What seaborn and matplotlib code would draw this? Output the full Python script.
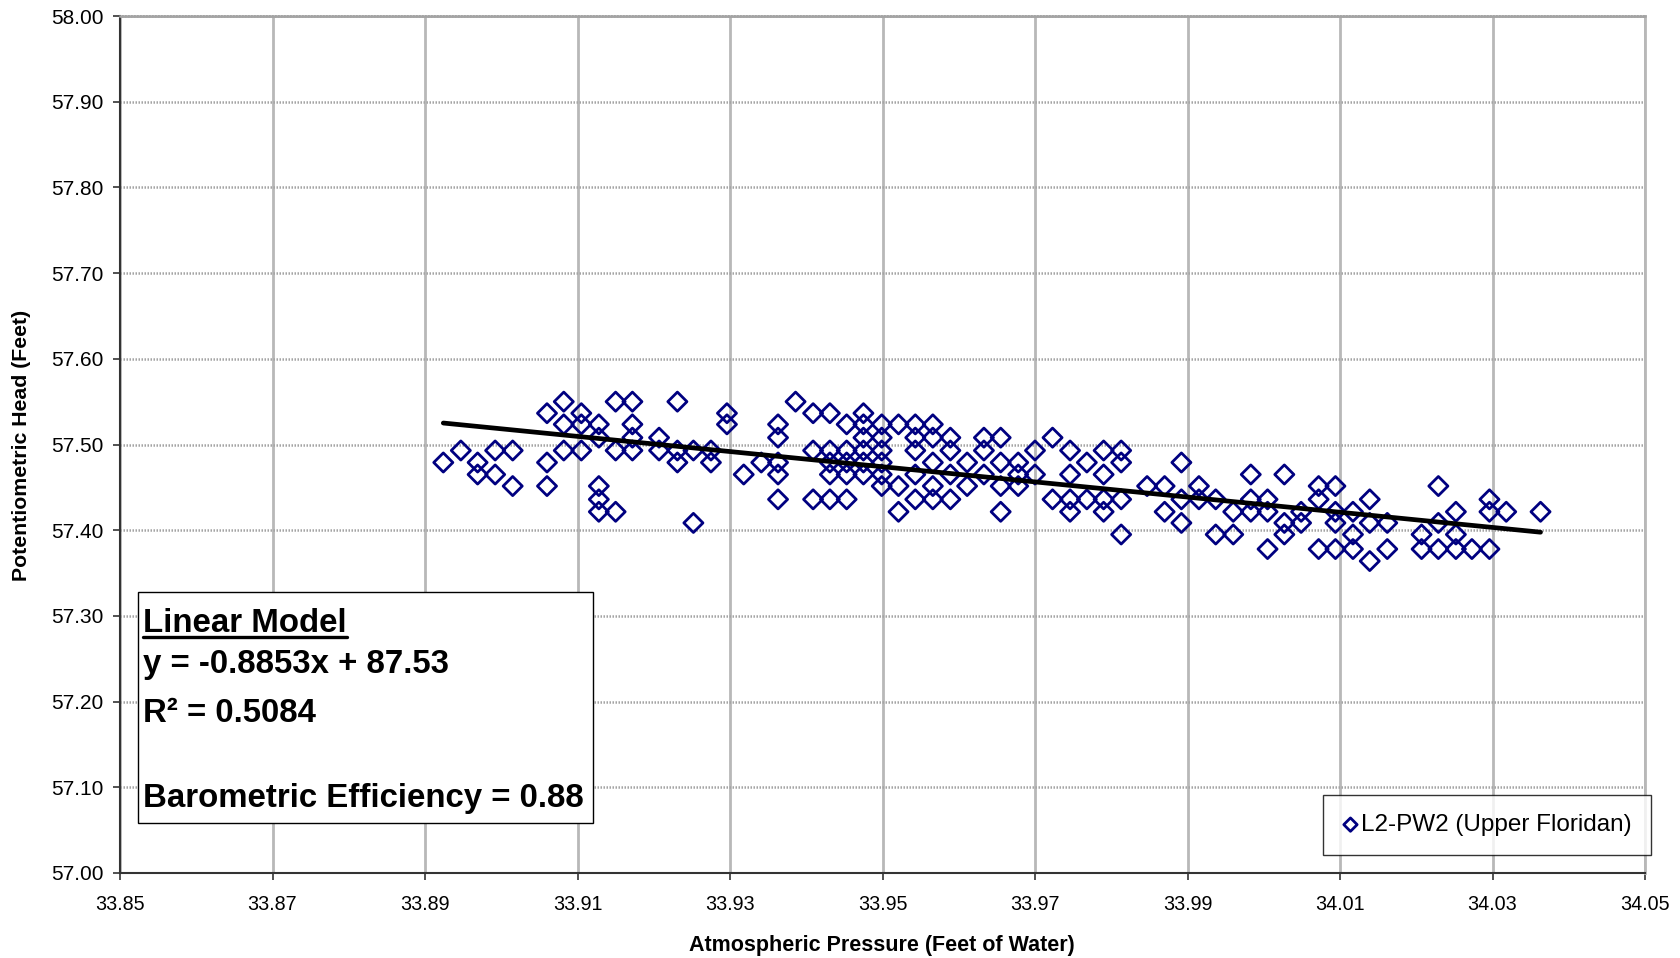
import numpy as np
import pandas as pd
import matplotlib
matplotlib.use("Agg")
import matplotlib.pyplot as plt
import seaborn as sns
from matplotlib.lines import Line2D
from matplotlib.patches import Rectangle

sns.set_style("white")
plt.rcParams['font.family'] = ['Liberation Sans', 'DejaVu Sans']
plt.rcParams['text.color'] = 'black'
plt.rcParams['xtick.labelcolor'] = 'black'
plt.rcParams['ytick.labelcolor'] = 'black'

# atmospheric pressure (ft of water), one value per column of points
pressure_cols = [33.8924, 33.8947, 33.8969, 33.8992, 33.9015, 33.9060, 33.9082, 33.9105,
                 33.9128, 33.9150, 33.9172, 33.9207, 33.9231, 33.9252, 33.9275, 33.9296,
                 33.9318, 33.9341, 33.9363, 33.9386, 33.9409, 33.9431, 33.9453, 33.9475,
                 33.9499, 33.9521, 33.9543, 33.9566, 33.9589, 33.9611, 33.9633, 33.9655,
                 33.9678, 33.9700, 33.9723, 33.9746, 33.9768, 33.9790, 33.9813, 33.9847,
                 33.9870, 33.9892, 33.9915, 33.9937, 33.9960, 33.9983, 34.0005, 34.0027,
                 34.0049, 34.0072, 34.0094, 34.0117, 34.0139, 34.0162, 34.0207, 34.0229,
                 34.0252, 34.0273, 34.0296, 34.0318, 34.0363]
# potentiometric head (ft) read at each pressure column
head_cols = [
    [57.479], [57.493], [57.479, 57.465], [57.493, 57.465], [57.493, 57.4515],
    [57.5365, 57.479, 57.4515], [57.550, 57.5235, 57.493], [57.5365, 57.5235, 57.493],
    [57.5235, 57.508, 57.4515, 57.436, 57.4215], [57.550, 57.493, 57.4215],
    [57.550, 57.5235, 57.508, 57.493], [57.508, 57.493], [57.550, 57.493, 57.479],
    [57.493, 57.4085], [57.493, 57.479], [57.5365, 57.5235],
    [57.465], [57.479], [57.5235, 57.508, 57.479, 57.465, 57.436], [57.550],
    [57.5365, 57.493, 57.436], [57.5365, 57.493, 57.479, 57.465, 57.436],
    [57.5235, 57.493, 57.479, 57.465, 57.436],
    [57.5365, 57.5235, 57.508, 57.493, 57.479, 57.465],
    [57.5235, 57.508, 57.493, 57.479, 57.465, 57.4515], [57.5235, 57.4515, 57.4215],
    [57.5235, 57.508, 57.493, 57.465, 57.436], [57.5235, 57.508, 57.479, 57.4515, 57.436],
    [57.508, 57.493, 57.465, 57.436], [57.479, 57.4515], [57.508, 57.493, 57.465],
    [57.508, 57.479, 57.4515, 57.4215], [57.479, 57.465, 57.4515], [57.493, 57.465],
    [57.508, 57.436], [57.493, 57.465, 57.436, 57.4215], [57.479, 57.436],
    [57.493, 57.465, 57.436, 57.4215], [57.493, 57.479, 57.436, 57.395], [57.4515],
    [57.4515, 57.4215], [57.479, 57.436, 57.4085], [57.4515, 57.436], [57.436, 57.395],
    [57.4215, 57.395], [57.465, 57.436, 57.4215], [57.436, 57.4215, 57.378],
    [57.465, 57.4085, 57.395], [57.4215, 57.4085], [57.4515, 57.436, 57.378],
    [57.4515, 57.4215, 57.4085, 57.378], [57.4215, 57.395, 57.378],
    [57.436, 57.4085, 57.364], [57.4085, 57.378], [57.395, 57.378],
    [57.4515, 57.4085, 57.378], [57.4215, 57.395, 57.378], [57.378],
    [57.436, 57.4215, 57.378], [57.4215], [57.4215]]

slope = -0.8853
intercept = 87.53
r_squared = 0.5084
baro_eff = 0.88
series_name = 'L2-PW2 (Upper Floridan)'

x_ticks = [33.85, 33.87, 33.89, 33.91, 33.93, 33.95, 33.97, 33.99, 34.01, 34.03, 34.05]
y_ticks = [57.00, 57.10, 57.20, 57.30, 57.40, 57.50, 57.60, 57.70, 57.80, 57.90, 58.00]

pressure = [p for p, hs in zip(pressure_cols, head_cols) for h in hs]
head = [h for hs in head_cols for h in hs]
df = pd.DataFrame({'pressure': pressure, 'head': head})

fig = plt.figure(figsize=(16.8, 9.58), dpi=100)
W, H = 1680, 958
ax = fig.add_axes([120 / W, 1 - 873 / H, 1525 / W, 857 / H])

sns.scatterplot(data=df, x='pressure', y='head', marker='D', s=95,
                color='#000080', facecolor='none', edgecolor='#000080',
                linewidth=2.0, label=series_name, ax=ax, zorder=3)

# fitted trend line over the range of the data
xs = np.array([df['pressure'].min(), df['pressure'].max()])
sns.lineplot(x=xs, y=slope * xs + intercept, color='black', linewidth=3.4,
             ax=ax, zorder=4, legend=False)

ax.set_xlim(33.85, 34.05)
ax.set_ylim(57.0, 58.0)
ax.set_xticks(x_ticks)
ax.set_yticks(y_ticks)
ax.set_xticklabels([f'{v:.2f}' for v in x_ticks])
ax.set_yticklabels([f'{v:.2f}' for v in y_ticks])

ax.set_axisbelow(True)
ax.xaxis.grid(True, color='#b8b8b8', linewidth=2, linestyle='-')
ax.yaxis.grid(True, color='#a4a4a4', linewidth=1.8, linestyle=(0, (0.6, 0.6)))

for side in ['left', 'bottom']:
    ax.spines[side].set_color('#333333')
    ax.spines[side].set_linewidth(1.5)
ax.spines['top'].set_color('#a4a4a4')
ax.spines['top'].set_linewidth(1.8)
ax.spines['top'].set_linestyle((0, (0.6, 0.6)))
ax.spines['right'].set_color('#b8b8b8')
ax.spines['right'].set_linewidth(2)

ax.tick_params(direction='out', length=5, width=1.2, color='#333333', bottom=True, left=True)
ax.tick_params(axis='y', labelsize=15, pad=7)
ax.tick_params(axis='x', labelsize=14.2, pad=11)

ax.set_xlabel('')
ax.set_ylabel('')
fig.text(882 / W, 1 - 946 / H, 'Atmospheric Pressure (Feet of Water)', fontsize=15.5,
         fontweight='bold', ha='center', va='center')
fig.text(22 / W, 1 - 445 / H, 'Potentiometric Head (Feet)', fontsize=15.3,
         fontweight='bold', ha='center', va='center', rotation=90)

leg = ax.legend(loc='center', bbox_to_anchor=(1487 / W, 1 - 825 / H),
                bbox_transform=fig.transFigure, fontsize=17.5, frameon=True,
                fancybox=False, edgecolor='black', handletextpad=0.1,
                handlelength=0.7, borderpad=0.8, markerscale=0.7)
leg.get_frame().set_linewidth(1.0)

# annotation box with the linear model
box = Rectangle((138 / W, 1 - 823 / H), 455 / W, 231 / H, transform=fig.transFigure,
                facecolor='white', edgecolor='black', linewidth=1.0, zorder=5)
fig.patches.append(box)
tx = 143 / W
fs = 23.8
title = fig.text(tx, 1 - 632 / H, 'Linear Model', fontsize=fs, fontweight='bold',
                 va='baseline', zorder=6)
fig.text(tx, 1 - 673 / H, f'y = {slope:.4f}x + {intercept:.2f}', fontsize=fs,
         fontweight='bold', va='baseline', zorder=6)
fig.text(tx, 1 - 722 / H, f'R\u00b2 = {r_squared:.4f}', fontsize=fs, fontweight='bold',
         va='baseline', zorder=6)
fig.text(tx, 1 - 807 / H, f'Barometric Efficiency = {baro_eff:.2f}', fontsize=fs,
         fontweight='bold', va='baseline', zorder=6)

fig.canvas.draw()
bb = title.get_window_extent().transformed(fig.transFigure.inverted())
fig.lines.append(Line2D([bb.x0, bb.x1], [1 - 637 / H, 1 - 637 / H], transform=fig.transFigure,
                        color='black', linewidth=2.4, zorder=6))

fig.savefig('out.png', dpi=100)
